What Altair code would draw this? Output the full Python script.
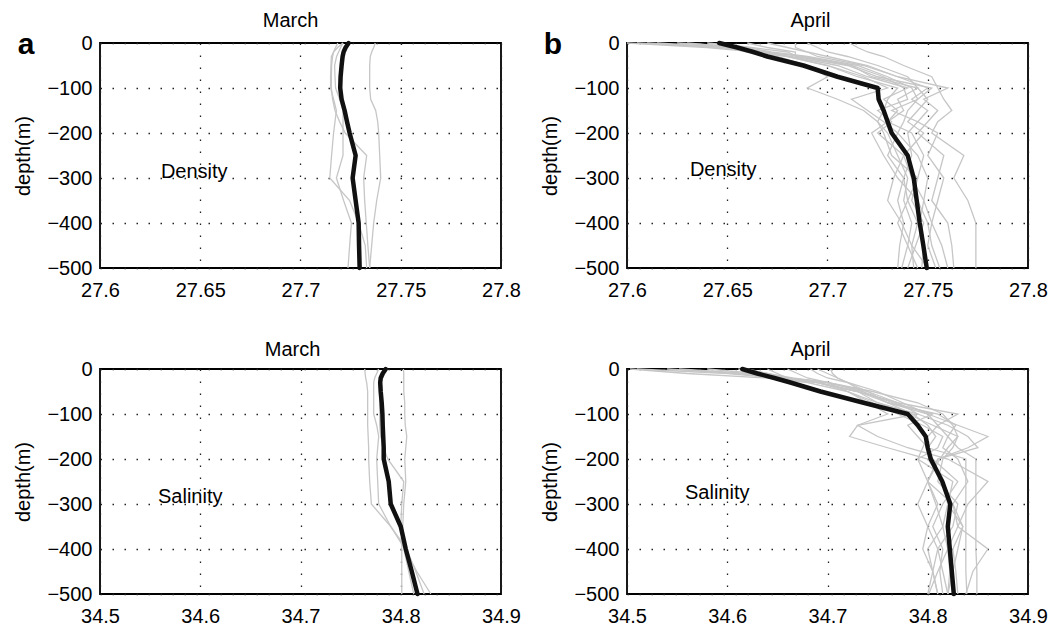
import altair as alt
import pandas as pd

FONT = "Liberation Sans"

DEPTH = [0, -10, -20, -30, -50, -75, -100, -125, -150, -175, -200, -250, -300, -350, -400, -450, -500]
Y_TICKS = [-500, -400, -300, -200, -100, 0]

DEN_DOMAIN = [27.6, 27.8]
DEN_TICKS = [27.6, 27.65, 27.7, 27.75, 27.8]
SAL_DOMAIN = [34.5, 34.9]
SAL_TICKS = [34.5, 34.6, 34.7, 34.8, 34.9]

# ---- March density ----
MAR_DEN_MEAN = [27.7240, 27.7225, 27.7215, 27.7210, 27.7205, 27.7200, 27.7198, 27.7205, 27.7220,
                27.7232, 27.7245, 27.7275, 27.7260, 27.7275, 27.7290, 27.7292, 27.7295]
MAR_DEN_P1 = [27.7373, 27.7365, 27.7355, 27.7348, 27.7345, 27.7345, 27.7345, 27.7350, 27.7375,
              27.7385, 27.7390, 27.7395, 27.7400, 27.7380, 27.7365, 27.7355, 27.7345]
MAR_DEN_P2 = [27.7186, 27.7175, 27.7165, 27.7160, 27.7155, 27.7154, 27.7154, 27.7160, 27.7172,
              27.7195, 27.7223, 27.7330, 27.7315, 27.7320, 27.7328, 27.7336, 27.7345]
MAR_DEN_P3 = [27.7212, 27.7185, 27.7165, 27.7154, 27.7152, 27.7150, 27.7150, 27.7165, 27.7179,
              27.7172, 27.7165, 27.7155, 27.7146, 27.7245, 27.7290, 27.7323, 27.7330]
MAR_DEN_P4 = [27.7212, 27.7200, 27.7190, 27.7180, 27.7170, 27.7172, 27.7175, 27.7195, 27.7212,
              27.7212, 27.7212, 27.7212, 27.7179, 27.7215, 27.7254, 27.7245, 27.7237]

# ---- April density ----
APR_DEN_MEAN = [27.6460, 27.6550, 27.6630, 27.6700, 27.6880, 27.7050, 27.7250, 27.7255, 27.7280,
                27.7300, 27.7320, 27.7400, 27.7430, 27.7445, 27.7460, 27.7478, 27.7495]
APR_DEN_P1 = [27.600, 27.640, 27.665, 27.680, 27.700, 27.715, 27.735, 27.730, 27.728, 27.725, 27.730, 27.735, 27.740, 27.738, 27.742, 27.740, 27.737]
APR_DEN_P2 = [27.615, 27.650, 27.660, 27.682, 27.705, 27.720, 27.740, 27.728, 27.735, 27.730, 27.742, 27.748, 27.745, 27.740, 27.745, 27.742, 27.743]
APR_DEN_P3 = [27.625, 27.660, 27.672, 27.690, 27.715, 27.730, 27.742, 27.745, 27.740, 27.738, 27.735, 27.745, 27.750, 27.748, 27.752, 27.750, 27.754]
APR_DEN_P4 = [27.640, 27.662, 27.680, 27.685, 27.710, 27.725, 27.752, 27.745, 27.732, 27.745, 27.740, 27.742, 27.738, 27.735, 27.738, 27.736, 27.735]
APR_DEN_P5 = [27.660, 27.670, 27.684, 27.684, 27.712, 27.722, 27.745, 27.735, 27.738, 27.730, 27.722, 27.728, 27.735, 27.745, 27.750, 27.752, 27.756]
APR_DEN_P6 = [27.684, 27.684, 27.690, 27.700, 27.720, 27.735, 27.760, 27.748, 27.755, 27.750, 27.745, 27.758, 27.755, 27.752, 27.760, 27.762, 27.763]
APR_DEN_P7 = [27.711, 27.715, 27.720, 27.728, 27.738, 27.752, 27.755, 27.758, 27.762, 27.755, 27.752, 27.768, 27.763, 27.770, 27.774, 27.774, 27.774]
APR_DEN_P8 = [27.690, 27.695, 27.700, 27.710, 27.725, 27.740, 27.745, 27.750, 27.745, 27.740, 27.748, 27.738, 27.742, 27.748, 27.746, 27.748, 27.747]
APR_DEN_P9 = [27.605, 27.648, 27.665, 27.675, 27.690, 27.700, 27.690, 27.705, 27.718, 27.725, 27.728, 27.732, 27.745, 27.742, 27.748, 27.744, 27.740]
APR_DEN_P10 = [27.630, 27.655, 27.670, 27.680, 27.700, 27.718, 27.730, 27.712, 27.720, 27.728, 27.735, 27.730, 27.738, 27.740, 27.735, 27.740, 27.745]
APR_DEN_P11 = [27.610, 27.650, 27.668, 27.688, 27.712, 27.728, 27.738, 27.740, 27.725, 27.732, 27.725, 27.738, 27.733, 27.730, 27.737, 27.742, 27.750]
APR_DEN_P12 = [27.670, 27.680, 27.690, 27.695, 27.718, 27.735, 27.750, 27.742, 27.750, 27.745, 27.755, 27.750, 27.758, 27.755, 27.752, 27.757, 27.760]

# ---- March salinity ----
MAR_SAL_MEAN = [34.785, 34.782, 34.780, 34.7795, 34.780, 34.781, 34.7817, 34.782, 34.7825,
                34.783, 34.783, 34.788, 34.790, 34.800, 34.805, 34.811, 34.8167]
MAR_SAL_P1 = [34.764, 34.7645, 34.765, 34.766, 34.767, 34.767, 34.767, 34.767, 34.7675,
              34.768, 34.768, 34.769, 34.7707, 34.790, 34.804, 34.816, 34.830]
MAR_SAL_P2 = [34.778, 34.776, 34.774, 34.773, 34.773, 34.773, 34.773, 34.776, 34.778,
              34.777, 34.776, 34.777, 34.778, 34.790, 34.806, 34.815, 34.8233]
MAR_SAL_P3 = [34.787, 34.784, 34.782, 34.780, 34.779, 34.779, 34.779, 34.779, 34.780,
              34.783, 34.787, 34.803, 34.801, 34.800, 34.803, 34.808, 34.813]
MAR_SAL_P4 = [34.8027, 34.803, 34.803, 34.803, 34.803, 34.804, 34.804, 34.8045, 34.806,
              34.805, 34.804, 34.805, 34.803, 34.802, 34.801, 34.801, 34.801]

# ---- April salinity ----
APR_SAL_MEAN = [34.615, 34.630, 34.647, 34.663, 34.693, 34.736, 34.780, 34.790, 34.798,
                34.800, 34.803, 34.8145, 34.8225, 34.820, 34.822, 34.824, 34.826]
APR_SAL_P1 = [34.503, 34.560, 34.640, 34.680, 34.720, 34.750, 34.790, 34.820, 34.840, 34.850, 34.810, 34.800, 34.808, 34.815, 34.820, 34.810, 34.801]
APR_SAL_P2 = [34.510, 34.600, 34.650, 34.690, 34.730, 34.770, 34.830, 34.810, 34.800, 34.795, 34.790, 34.825, 34.820, 34.835, 34.830, 34.825, 34.820]
APR_SAL_P3 = [34.552, 34.620, 34.660, 34.700, 34.740, 34.760, 34.800, 34.830, 34.860, 34.840, 34.810, 34.800, 34.790, 34.800, 34.810, 34.805, 34.810]
APR_SAL_P4 = [34.611, 34.640, 34.665, 34.700, 34.735, 34.765, 34.805, 34.780, 34.790, 34.800, 34.838, 34.838, 34.838, 34.838, 34.838, 34.838, 34.839]
APR_SAL_P5 = [34.683, 34.690, 34.700, 34.720, 34.750, 34.775, 34.800, 34.810, 34.820, 34.830, 34.848, 34.848, 34.848, 34.848, 34.848, 34.849, 34.849]
APR_SAL_P6 = [34.703, 34.705, 34.710, 34.720, 34.740, 34.770, 34.790, 34.730, 34.722, 34.760, 34.800, 34.815, 34.820, 34.815, 34.800, 34.805, 34.810]
APR_SAL_P7 = [34.640, 34.650, 34.660, 34.700, 34.720, 34.740, 34.760, 34.730, 34.750, 34.780, 34.820, 34.860, 34.840, 34.830, 34.820, 34.822, 34.820]
APR_SAL_P8 = [34.540, 34.610, 34.650, 34.690, 34.730, 34.750, 34.780, 34.805, 34.830, 34.820, 34.812, 34.800, 34.825, 34.830, 34.860, 34.845, 34.838]
APR_SAL_P9 = [34.580, 34.630, 34.660, 34.690, 34.720, 34.745, 34.770, 34.795, 34.815, 34.810, 34.790, 34.800, 34.810, 34.800, 34.795, 34.805, 34.800]
APR_SAL_P10 = [34.660, 34.670, 34.680, 34.700, 34.745, 34.790, 34.815, 34.825, 34.830, 34.825, 34.815, 34.810, 34.830, 34.825, 34.810, 34.815, 34.820]
APR_SAL_P11 = [34.620, 34.640, 34.660, 34.690, 34.730, 34.760, 34.785, 34.800, 34.808, 34.800, 34.805, 34.830, 34.815, 34.805, 34.815, 34.812, 34.815]
APR_SAL_P12 = [34.690, 34.700, 34.710, 34.720, 34.735, 34.760, 34.810, 34.828, 34.820, 34.815, 34.830, 34.840, 34.825, 34.835, 34.825, 34.828, 34.830]

MAR_DEN_PROFILES = [MAR_DEN_P1, MAR_DEN_P2, MAR_DEN_P3, MAR_DEN_P4]
APR_DEN_PROFILES = [APR_DEN_P1, APR_DEN_P2, APR_DEN_P3, APR_DEN_P4, APR_DEN_P5, APR_DEN_P6,
                    APR_DEN_P7, APR_DEN_P8, APR_DEN_P9, APR_DEN_P10, APR_DEN_P11, APR_DEN_P12]
MAR_SAL_PROFILES = [MAR_SAL_P1, MAR_SAL_P2, MAR_SAL_P3, MAR_SAL_P4]
APR_SAL_PROFILES = [APR_SAL_P1, APR_SAL_P2, APR_SAL_P3, APR_SAL_P4, APR_SAL_P5, APR_SAL_P6,
                    APR_SAL_P7, APR_SAL_P8, APR_SAL_P9, APR_SAL_P10, APR_SAL_P11, APR_SAL_P12]

PANEL_TITLES = ["March", "April", "March", "April"]
PANEL_LETTERS = ["a", "b", "", ""]
LABELS = ["Density", "Density", "Salinity", "Salinity"]
LABEL_POS = [(27.647, -287), (27.648, -282), (34.590, -284), (34.590, -276)]
TITLE_DX = [-10, -17, -8, -17]

W, H = 401, 225


def profiles_df(profiles):
    rows = []
    for pid, prof in enumerate(profiles):
        for i, (d, v) in enumerate(zip(DEPTH, prof)):
            rows.append({"pid": pid, "i": i, "depth": d, "value": v})
    return pd.DataFrame(rows)


def panel(idx, profiles, mean, domain, ticks):
    xs = alt.Scale(domain=domain, nice=False, zero=False)
    ys = alt.Scale(domain=[-500, 0], nice=False, zero=False)
    xaxis = alt.Axis(values=ticks, format="~g", title=None, labelPadding=12)
    yaxis = alt.Axis(values=Y_TICKS, title="depth(m)", labelPadding=8,
                     titleX=-77, titleY=H / 2, titleAngle=-90,
                     titleAlign="center", titleBaseline="middle")
    x = alt.X("value:Q", scale=xs, axis=xaxis)
    y = alt.Y("depth:Q", scale=ys, axis=yaxis)

    gray = alt.Chart(profiles_df(profiles)).mark_line(
        color="#c6c6c6", strokeWidth=1.3
    ).encode(x=x, y=y, detail="pid:N", order="i:Q")

    mdf = pd.DataFrame({"depth": DEPTH, "value": mean, "i": list(range(len(DEPTH)))})
    black = alt.Chart(mdf).mark_line(
        color="#111111", strokeWidth=4.5, strokeJoin="round", strokeCap="round"
    ).encode(x="value:Q", y="depth:Q", order="i:Q")

    ldf = pd.DataFrame({"value": [LABEL_POS[idx][0]], "depth": [LABEL_POS[idx][1]],
                        "t": [LABELS[idx]]})
    label = alt.Chart(ldf).mark_text(
        font=FONT, fontSize=20, color="black", align="center", baseline="middle"
    ).encode(x="value:Q", y="depth:Q", text="t:N")

    layers = [gray, black, label]
    if PANEL_LETTERS[idx]:
        let = alt.Chart(pd.DataFrame({"t": [PANEL_LETTERS[idx]]})).mark_text(
            font=FONT, fontSize=30, fontWeight="bold", color="black",
            align="center", baseline="alphabetic"
        ).encode(x=alt.value(-74), y=alt.value(11), text="t:N")
        layers.append(let)

    return alt.layer(*layers).properties(
        width=W, height=H,
        title=alt.TitleParams(PANEL_TITLES[idx], dx=TITLE_DX[idx]),
    )


p1 = panel(0, MAR_DEN_PROFILES, MAR_DEN_MEAN, DEN_DOMAIN, DEN_TICKS)
p2 = panel(1, APR_DEN_PROFILES, APR_DEN_MEAN, DEN_DOMAIN, DEN_TICKS)
p3 = panel(2, MAR_SAL_PROFILES, MAR_SAL_MEAN, SAL_DOMAIN, SAL_TICKS)
p4 = panel(3, APR_SAL_PROFILES, APR_SAL_MEAN, SAL_DOMAIN, SAL_TICKS)

chart = alt.concat(
    p1, p2, p3, p4, columns=2,
    spacing={"row": 101, "column": 126},
    bounds="flush",
).properties(
    padding={"left": 12, "top": 10, "right": 5, "bottom": 5},
    background="white",
).configure_view(
    stroke="black", strokeWidth=1.8
).configure_axis(
    labelFont=FONT, labelFontSize=20, labelColor="black",
    titleFont=FONT, titleFontSize=20, titleFontWeight="normal", titleColor="black",
    domain=False, ticks=False, tickSize=0,
    grid=True, gridColor="#222222", gridDash=[1.5, 10.5], gridWidth=1.3, gridOpacity=1,
    labelFlush=False, labelOverlap=False,
).configure_title(
    font=FONT, fontSize=20, fontWeight="normal", color="black", offset=-1, anchor="middle"
)

chart.save("out.html", embed_options={"renderer": "svg", "actions": False})
